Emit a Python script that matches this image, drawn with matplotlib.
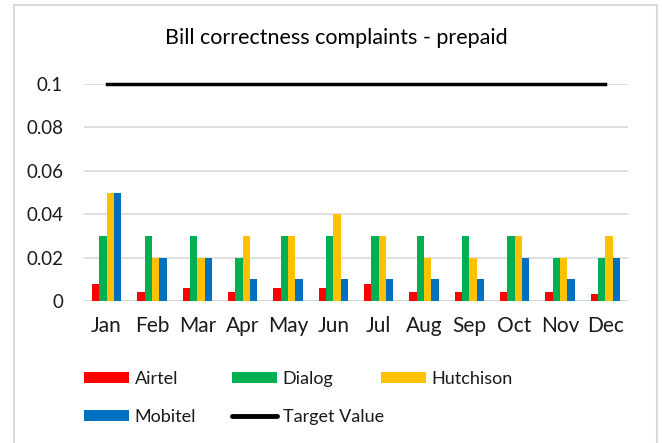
import numpy as np
import matplotlib.pyplot as plt
from matplotlib.patches import Rectangle, Patch
from matplotlib.lines import Line2D

plt.rcParams['font.family'] = ['Lato', 'DejaVu Sans']

# --- Data ---
months = ["Jan", "Feb", "Mar", "Apr", "May", "Jun", "Jul", "Aug", "Sep", "Oct", "Nov", "Dec"]
airtel = [0.008, 0.004, 0.006, 0.004, 0.006, 0.006, 0.008, 0.004, 0.004, 0.004, 0.004, 0.003]
dialog = [0.03, 0.03, 0.03, 0.02, 0.03, 0.03, 0.03, 0.03, 0.03, 0.03, 0.02, 0.02]
hutchison = [0.05, 0.02, 0.02, 0.03, 0.03, 0.04, 0.03, 0.02, 0.02, 0.03, 0.02, 0.03]
mobitel = [0.05, 0.02, 0.02, 0.01, 0.01, 0.01, 0.01, 0.01, 0.01, 0.02, 0.01, 0.02]
target = [0.1] * 12
yticks = [0, 0.02, 0.04, 0.06, 0.08, 0.1]
ytick_labels = ["0", "0.02", "0.04", "0.06", "0.08", "0.1"]

series = [("Airtel", airtel, "#FF0000"),
          ("Dialog", dialog, "#00B050"),
          ("Hutchison", hutchison, "#FFC000"),
          ("Mobitel", mobitel, "#0070C0")]

W, H = 662, 443
fig = plt.figure(figsize=(W / 100, H / 100), dpi=100)
ax = fig.add_axes([84 / W, 1 - 301 / H, (628 - 84) / W, (301 - 84) / H])

x = np.arange(len(months))
bw = 0.16
for i, (name, vals, col) in enumerate(series):
    ax.bar(x + (i - 1.5) * bw, vals, width=bw, color=col, zorder=3)
ax.plot(x, target, color="black", linewidth=2.5, zorder=4, clip_on=False)

ax.set_xlim(-0.5, len(months) - 0.5)
ax.set_ylim(0, 0.1)
ax.set_yticks(yticks)
ax.set_yticklabels(ytick_labels, fontsize=13.5, color="#1a1a1a")
ax.set_xticks(x)
ax.set_xticklabels(months, fontsize=15, color="#1a1a1a")
ax.tick_params(axis="both", length=0)
ax.tick_params(axis="y", pad=15)
ax.tick_params(axis="x", pad=11)
ax.grid(axis="y", color="#D9D9D9", linewidth=1.2, zorder=0)
ax.set_axisbelow(True)
for s in ax.spines.values():
    s.set_visible(False)
ax.axhline(0, color="#D9D9D9", linewidth=1.2, zorder=1)

fig.text(336 / W, 1 - 38 / H, "Bill correctness complaints - prepaid",
         ha="center", va="center", fontsize=15.5, color="black")

# --- Legend: three columns placed by hand ---
h = {name: Patch(facecolor=col) for name, _, col in series}
tline = Line2D([], [], color="black", linewidth=3.5, solid_capstyle="round")
cols = [([h["Airtel"], h["Mobitel"]], ["Airtel", "Mobitel"], 84),
        ([h["Dialog"], tline], ["Dialog", "Target Value"], 232),
        ([h["Hutchison"]], ["Hutchison"], 381)]
for handles, labels, xpos in cols:
    fig.legend(handles, labels, loc="upper left",
               bbox_to_anchor=(xpos / W, 1 - 371 / H), frameon=False,
               fontsize=13, handlelength=2.5, handleheight=0.6,
               handletextpad=0.3, labelspacing=1.2, borderpad=0,
               borderaxespad=0, labelcolor="#1a1a1a")

# chart border
fig.patches.append(Rectangle((13.5 / W, -0.05), (657 - 13.5) / W, 1.05 - 5.5 / H,
                             transform=fig.transFigure, fill=False,
                             edgecolor="#D9D9D9", linewidth=1.5))

plt.savefig("out.png", dpi=100)
